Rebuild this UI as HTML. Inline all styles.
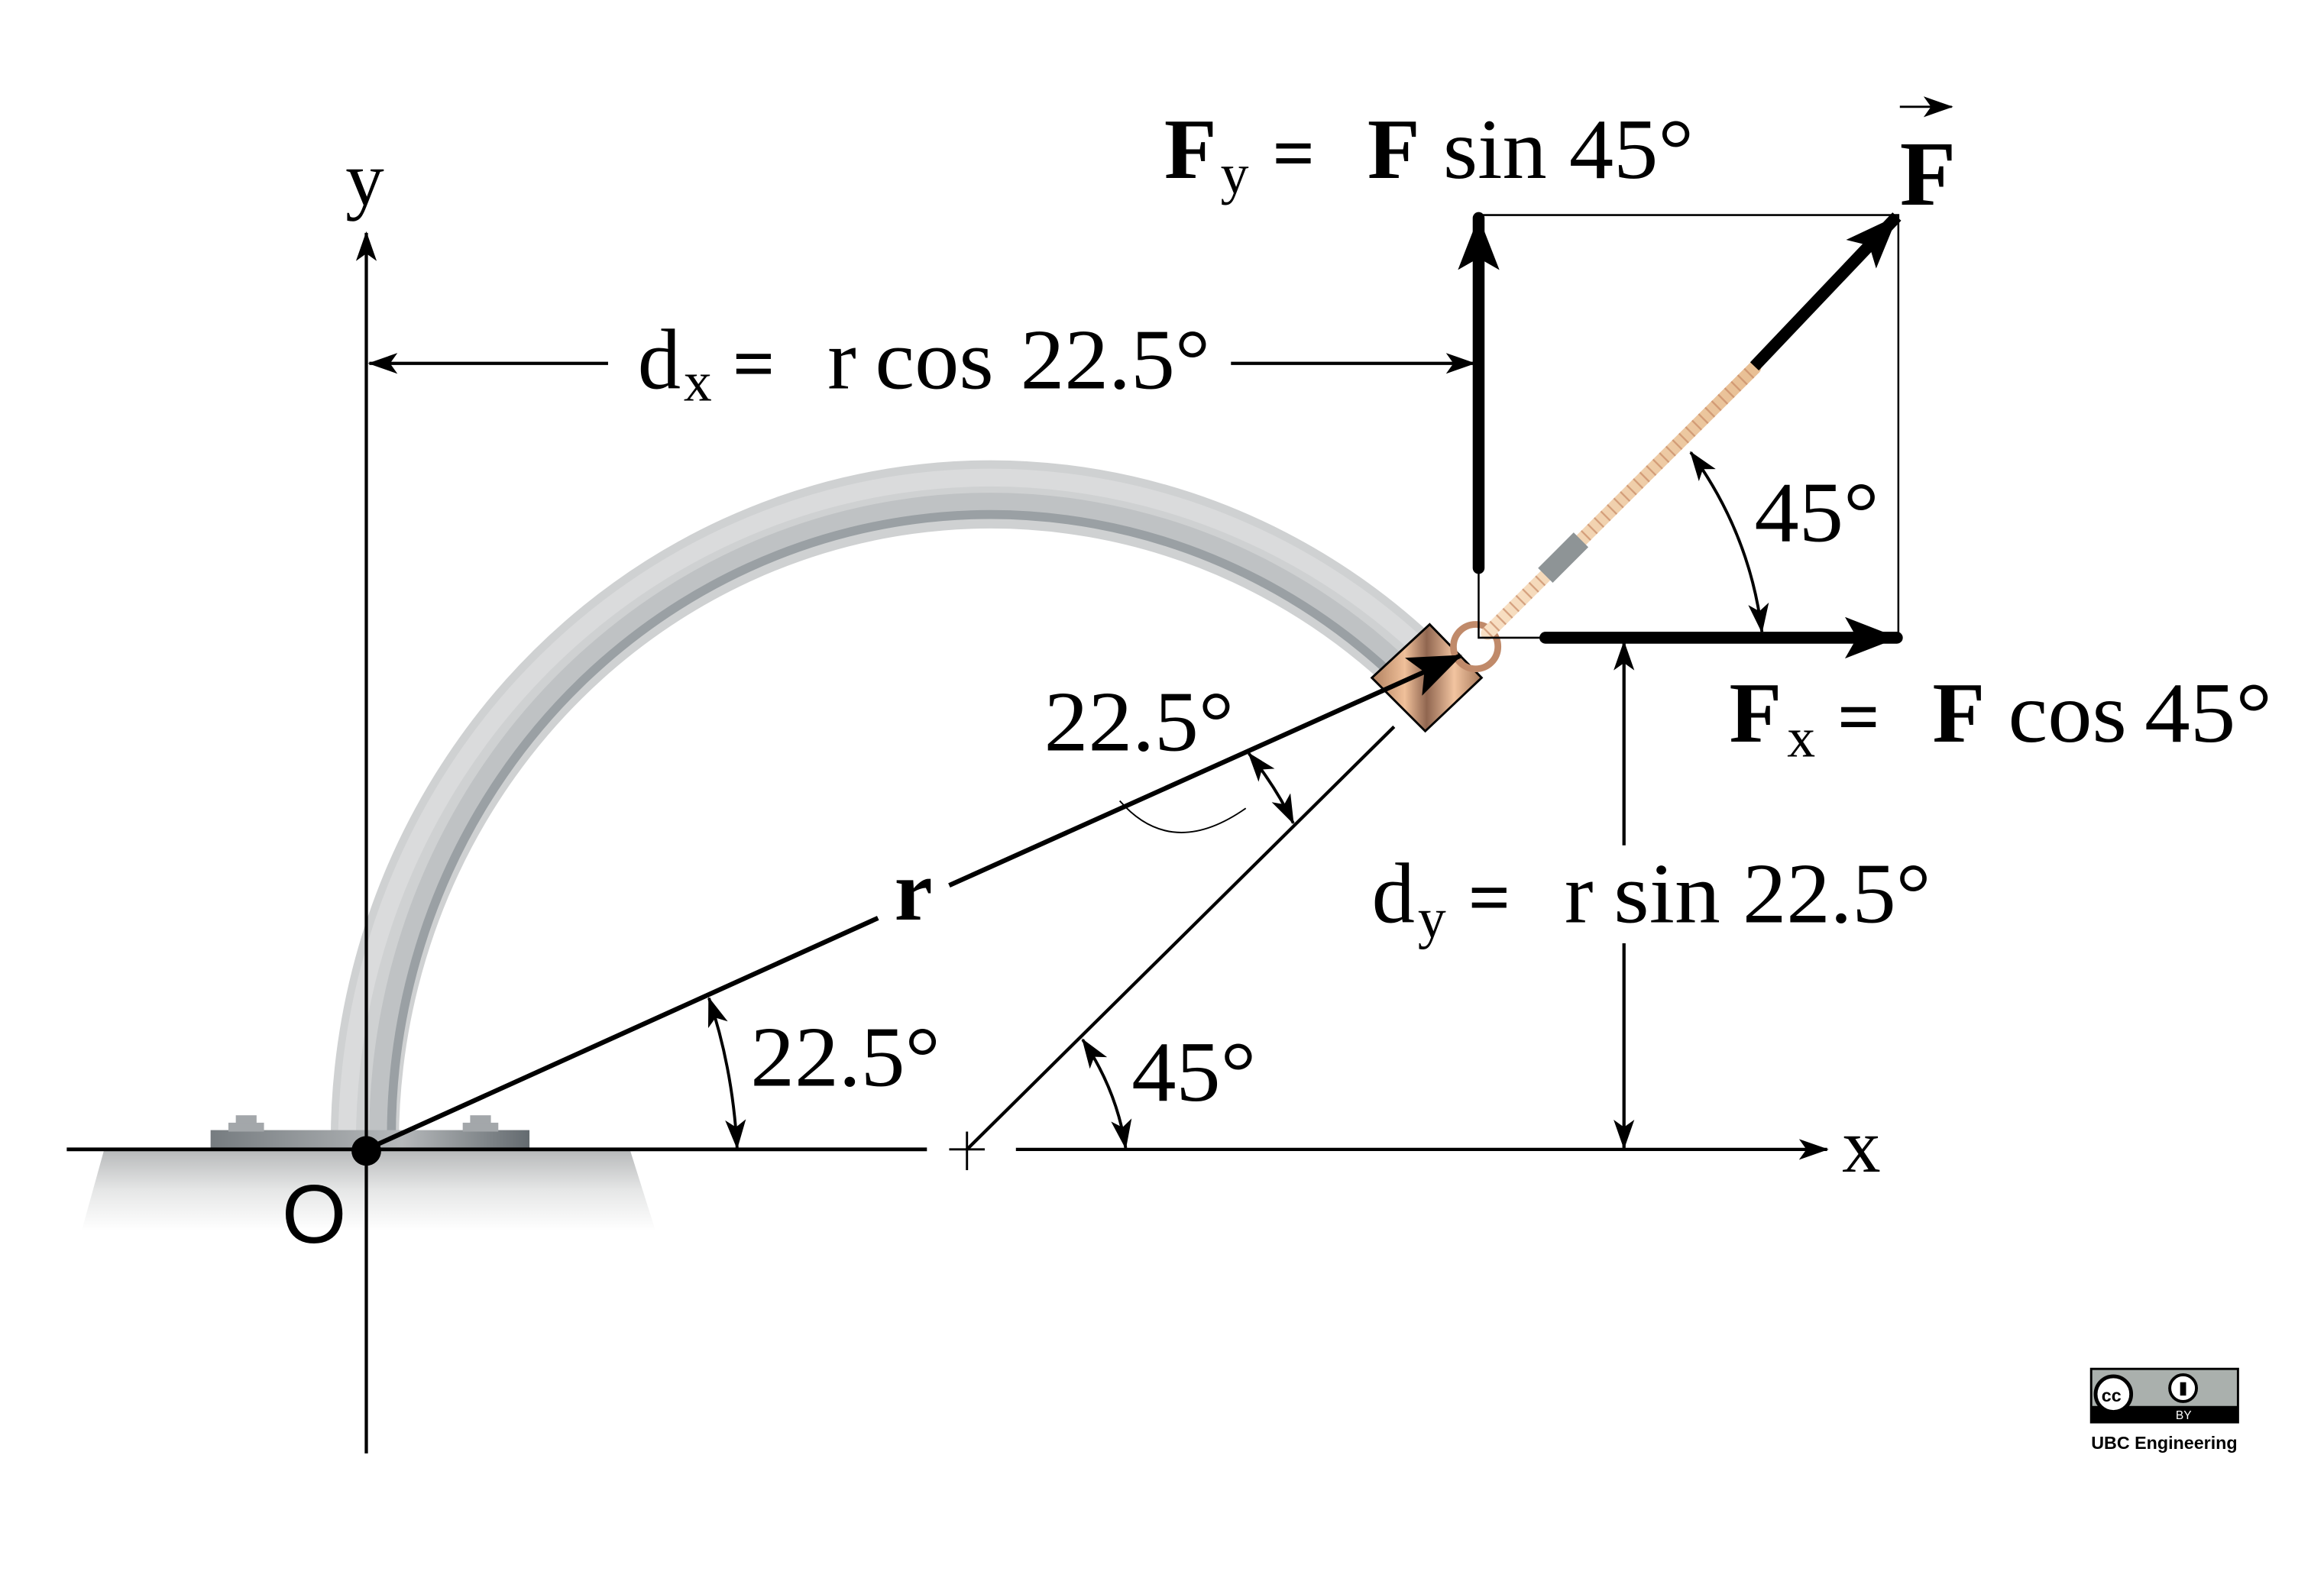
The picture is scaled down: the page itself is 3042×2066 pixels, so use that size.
<!DOCTYPE html>
<html><head><meta charset="utf-8">
<style>
html,body{margin:0;padding:0;background:#fff;}
svg{display:block;}
text{font-family:"Liberation Serif",serif;fill:#000;}
</style></head>
<body>
<svg width="3042" height="2066" viewBox="0 0 1567 1064" preserveAspectRatio="none" xmlns="http://www.w3.org/2000/svg">
<defs>
<marker id="ah" viewBox="0 0 20 14" refX="19" refY="7" markerWidth="20" markerHeight="14" markerUnits="userSpaceOnUse" orient="auto-start-reverse">
<path d="M0,0 L20,7 L0,14 L5,7 Z" fill="#000"/></marker>
<marker id="ahb" viewBox="0 0 36 28" refX="35" refY="14" markerWidth="36" markerHeight="28" markerUnits="userSpaceOnUse" orient="auto">
<path d="M0,0 L36,14 L0,28 L8,14 Z" fill="#000"/></marker>
<linearGradient id="ground" x1="0" y1="0" x2="0" y2="1">
<stop offset="0" stop-color="#b8babb"/><stop offset="0.5" stop-color="#e6e7e7"/><stop offset="1" stop-color="#fff"/></linearGradient>
<linearGradient id="plate" x1="0" y1="0" x2="1" y2="0">
<stop offset="0" stop-color="#767c80"/><stop offset="0.6" stop-color="#b5b8ba"/><stop offset="1" stop-color="#646b70"/></linearGradient>
<linearGradient id="copper" x1="0" y1="0" x2="1" y2="0">
<stop offset="0" stop-color="#b0805f"/><stop offset="0.3" stop-color="#f0c09a"/><stop offset="0.5" stop-color="#906650"/><stop offset="0.75" stop-color="#f2c4a0"/><stop offset="1" stop-color="#a87a5c"/></linearGradient>
<linearGradient id="rope" x1="0" y1="0" x2="1" y2="0">
<stop offset="0" stop-color="#f8e0c4"/><stop offset="1" stop-color="#e8bf94"/></linearGradient>
</defs>

<!-- ground -->
<path d="M70,776 L425,776 L442,830 L55,830 Z" fill="url(#ground)"/>
<!-- arch tube -->
<path d="M246,775 A422,437 0 0 1 955,450" fill="none" stroke="#cfd1d2" stroke-width="46"/>
<path d="M256,775 A412,427 0 0 1 951,456" fill="none" stroke="#bfc2c4" stroke-width="14"/>
<path d="M264,775 A404,419 0 0 1 947,463" fill="none" stroke="#9aa0a4" stroke-width="6"/>
<path d="M234,775 A434,449 0 0 1 958,437" fill="none" stroke="#dadbdc" stroke-width="12"/>
<!-- base plate -->
<rect x="142" y="762" width="215" height="13" fill="url(#plate)"/>
<rect x="154" y="757" width="24" height="6" fill="#a3a7aa"/>
<rect x="159" y="752" width="14" height="6" fill="#a3a7aa"/>
<rect x="312" y="757" width="24" height="6" fill="#a3a7aa"/>
<rect x="317" y="752" width="14" height="6" fill="#a3a7aa"/>

<!-- axes -->
<line x1="247" y1="980" x2="247" y2="157" stroke="#000" stroke-width="2.2" marker-end="url(#ah)"/>
<line x1="45" y1="775" x2="625" y2="775" stroke="#000" stroke-width="2.5"/>
<line x1="685" y1="775" x2="1232" y2="775" stroke="#000" stroke-width="2.2" marker-end="url(#ah)"/>
<line x1="640" y1="775" x2="664" y2="775" stroke="#000" stroke-width="1.5"/>
<line x1="652" y1="763" x2="652" y2="789" stroke="#000" stroke-width="1.5"/>
<text x="233" y="138" font-size="52">y</text>
<text x="1242" y="790" font-size="52">x</text>
<circle cx="247" cy="776" r="10" fill="#000"/>
<text x="190" y="838" font-size="56" style="font-family:'Liberation Sans',sans-serif">O</text>

<!-- 45 deg line -->
<line x1="652" y1="775" x2="940" y2="490" stroke="#000" stroke-width="2.2"/>

<!-- r vector -->
<line x1="247" y1="775" x2="592" y2="619" stroke="#000" stroke-width="3.2"/>

<!-- collar -->
<path d="M964,421 L999,457 L961,493 L925,457 Z" fill="url(#copper)" stroke="#000" stroke-width="1.5"/>
<circle cx="995" cy="436" r="15" fill="none" stroke="#c08a6a" stroke-width="4.5"/>
<line x1="640" y1="597" x2="985" y2="442" stroke="#000" stroke-width="3.2" marker-end="url(#ahb)"/>
<text x="603" y="620" font-size="58" font-weight="bold">r</text>

<!-- rope -->
<line x1="1003" y1="427" x2="1183" y2="248" stroke="url(#rope)" stroke-width="9" stroke-linecap="round"/>
<line x1="1003" y1="427" x2="1183" y2="248" stroke="#c88a66" stroke-width="9" stroke-dasharray="1.2 5" opacity="0.7"/>
<line x1="1042" y1="388" x2="1066" y2="364" stroke="#8e9496" stroke-width="14"/>

<!-- rectangle -->
<path d="M997,145 L1280,145 L1280,430 M997,385 L997,430 L1040,430" fill="none" stroke="#000" stroke-width="1.3"/>
<line x1="1183" y1="247" x2="1279" y2="146" stroke="#000" stroke-width="8" marker-end="url(#ahb)"/>
<line x1="997" y1="383" x2="997" y2="147" stroke="#000" stroke-width="8" stroke-linecap="round" marker-end="url(#ahb)"/>
<line x1="1042" y1="430" x2="1279" y2="430" stroke="#000" stroke-width="8" stroke-linecap="round" marker-end="url(#ahb)"/>

<!-- dx dimension -->
<line x1="410" y1="245" x2="249" y2="245" stroke="#000" stroke-width="2.2" marker-end="url(#ah)"/>
<line x1="830" y1="245" x2="994" y2="245" stroke="#000" stroke-width="2.2" marker-end="url(#ah)"/>
<g font-size="58">
<text x="430" y="262">d</text><text x="461" y="270" font-size="38">x</text>
<text x="494" y="262" font-weight="bold" font-size="50">=</text>
<text x="558" y="262">r</text>
<text x="590" y="262" textLength="80" lengthAdjust="spacingAndGlyphs">cos</text>
<text x="688" y="262" textLength="128" lengthAdjust="spacingAndGlyphs">22.5°</text>
</g>

<!-- dy dimension -->
<line x1="1095" y1="570" x2="1095" y2="433" stroke="#000" stroke-width="2.2" marker-end="url(#ah)"/>
<line x1="1095" y1="636" x2="1095" y2="774" stroke="#000" stroke-width="2.2" marker-end="url(#ah)"/>
<g font-size="58">
<text x="925" y="622">d</text><text x="956" y="632" font-size="38">y</text>
<text x="990" y="622" font-weight="bold" font-size="50">=</text>
<text x="1055" y="622">r</text>
<text x="1088" y="622" textLength="72" lengthAdjust="spacingAndGlyphs">sin</text>
<text x="1175" y="622" textLength="127" lengthAdjust="spacingAndGlyphs">22.5°</text>
</g>

<!-- force labels -->
<g font-size="58">
<text x="785" y="120" font-weight="bold">F</text><text x="823" y="130" font-size="38">y</text>
<text x="858" y="120" font-weight="bold" font-size="50">=</text>
<text x="922" y="120" font-weight="bold">F</text>
<text x="973" y="120" textLength="70" lengthAdjust="spacingAndGlyphs">sin</text>
<text x="1058" y="120" textLength="84" lengthAdjust="spacingAndGlyphs">45°</text>
</g>
<g font-size="58">
<text x="1166" y="500" font-weight="bold">F</text><text x="1205" y="510" font-size="38">x</text>
<text x="1239" y="500" font-weight="bold" font-size="50">=</text>
<text x="1303" y="500" font-weight="bold">F</text>
<text x="1354" y="500" textLength="80" lengthAdjust="spacingAndGlyphs">cos</text>
<text x="1446" y="500" textLength="86" lengthAdjust="spacingAndGlyphs">45°</text>
</g>
<text x="1281" y="138" font-size="62" font-weight="bold">F</text>
<line x1="1281" y1="72" x2="1316" y2="72" stroke="#000" stroke-width="1.5" marker-end="url(#ah)"/>

<!-- angle arcs -->
<path d="M1140,305 Q1180,360 1188,426" fill="none" stroke="#000" stroke-width="2" marker-start="url(#ah)" marker-end="url(#ah)"/>
<text x="1183" y="365" font-size="58" textLength="84" lengthAdjust="spacingAndGlyphs">45°</text>
<path d="M730,701 Q753,735 759,774" fill="none" stroke="#000" stroke-width="2" marker-start="url(#ah)" marker-end="url(#ah)"/>
<text x="763" y="742" font-size="58" textLength="84" lengthAdjust="spacingAndGlyphs">45°</text>
<path d="M478,673 Q494,720 497,774" fill="none" stroke="#000" stroke-width="2" marker-start="url(#ah)" marker-end="url(#ah)"/>
<text x="506" y="732" font-size="58" textLength="128" lengthAdjust="spacingAndGlyphs">22.5°</text>
<path d="M842,508 Q860,530 872,555" fill="none" stroke="#000" stroke-width="2" marker-start="url(#ah)" marker-end="url(#ah)"/>
<path d="M755,540 Q790,580 840,545" fill="none" stroke="#000" stroke-width="1"/>
<text x="704" y="506" font-size="58" textLength="128" lengthAdjust="spacingAndGlyphs">22.5°</text>

<!-- CC badge -->
<g>
<rect x="1410" y="923" width="99" height="36" fill="#aab0ad" stroke="#000" stroke-width="1.5"/>
<rect x="1410" y="948" width="99" height="11" fill="#000"/>
<circle cx="1425" cy="940" r="12" fill="#fff" stroke="#000" stroke-width="2.5"/>
<text x="1417" y="945" font-size="12" font-weight="bold" style="font-family:'Liberation Sans',sans-serif">cc</text>
<circle cx="1472" cy="936" r="9" fill="#fff" stroke="#000" stroke-width="2"/>
<rect x="1470" y="932" width="4" height="9" fill="#000"/>
<text x="1467" y="957" font-size="8" style="font-family:'Liberation Sans',sans-serif;fill:#fff">BY</text>
</g>
<text x="1410" y="977" font-size="12" font-weight="bold" style="font-family:'Liberation Sans',sans-serif">UBC Engineering</text>
</svg>
</body></html>
